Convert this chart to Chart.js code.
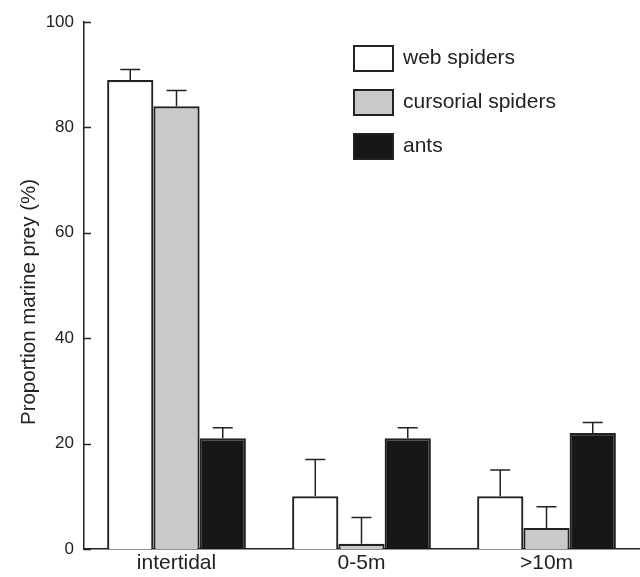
<!DOCTYPE html>
<html lang="en">
<head>
  <meta charset="UTF-8">
  <title>Proportion marine prey</title>
  <script src="https://cdn.jsdelivr.net/npm/chart.js"></script>
  <style>
    html, body { margin: 0; padding: 0; background: #fff; }
    #wrap { width: 640px; height: 577px; position: relative; }
  </style>
</head>
<body>
  <div id="wrap"><canvas id="preyChart"></canvas></div>

  <script>
    // values (%), errors are the upper whisker size
    const categories = ['intertidal', '0-5m', '>10m'];
    const seriesNames = ['web spiders', 'cursorial spiders', 'ants'];
    const webSpiders = [89, 10, 10];
    const webSpidersErr = [2, 7, 5];
    const cursorialSpiders = [84, 1, 4];
    const cursorialSpidersErr = [3, 5, 4];
    const ants = [21, 21, 22];
    const antsErr = [2, 2, 2];
    const yTicks = [0, 20, 40, 60, 80, 100];
    const yTitle = 'Proportion marine prey (%)';

    const ink = '#222';
    const fillColors = ['#ffffff', '#c8c9c8', '#171717'];
    const font = 'Liberation Sans, Arial, sans-serif';

    // whiskers, only pointing up
    const errorBars = {
      id: 'errorBars',
      afterDatasetsDraw(chart) {
        const ctx = chart.ctx;
        const y = chart.scales.y;
        ctx.save();
        ctx.strokeStyle = ink;
        ctx.lineWidth = 1.5;
        chart.data.datasets.forEach((ds, i) => {
          chart.getDatasetMeta(i).data.forEach((bar, j) => {
            const top = y.getPixelForValue(ds.data[j] + ds.err[j]);
            ctx.beginPath();
            ctx.moveTo(bar.x, bar.y);
            ctx.lineTo(bar.x, top);
            ctx.moveTo(bar.x - 10, top);
            ctx.lineTo(bar.x + 10, top);
            ctx.stroke();
          });
        });
        ctx.restore();
      }
    };

    // y ticks point into the plot, plus the rotated axis title
    const innerTicks = {
      id: 'innerTicks',
      afterDraw(chart) {
        const ctx = chart.ctx;
        const y = chart.scales.y;
        const left = chart.chartArea.left;
        ctx.save();
        ctx.strokeStyle = ink;
        ctx.lineWidth = 1.5;
        yTicks.forEach(v => {
          const py = Math.round(y.getPixelForValue(v)) + 0.5;
          ctx.beginPath();
          ctx.moveTo(left, py);
          ctx.lineTo(left + 7, py);
          ctx.stroke();
        });
        ctx.translate(29, 302);
        ctx.rotate(-Math.PI / 2);
        ctx.font = '20.5px ' + font;
        ctx.fillStyle = ink;
        ctx.textAlign = 'center';
        ctx.textBaseline = 'middle';
        ctx.fillText(yTitle, 0, 0);
        ctx.restore();
      }
    };

    // legend box in the upper right
    const boxLegend = {
      id: 'boxLegend',
      afterDraw(chart) {
        const ctx = chart.ctx;
        ctx.save();
        ctx.font = '21px ' + font;
        ctx.textBaseline = 'middle';
        chart.data.datasets.forEach((ds, i) => {
          const cy = 58 + i * 44;
          ctx.fillStyle = ds.backgroundColor;
          ctx.fillRect(354, cy - 12, 39, 25);
          ctx.strokeStyle = ink;
          ctx.lineWidth = 2;
          ctx.strokeRect(354, cy - 12, 39, 25);
          ctx.fillStyle = ink;
          ctx.fillText(ds.label, 403, cy);
        });
        ctx.restore();
      }
    };

    const values = [webSpiders, cursorialSpiders, ants];
    const errs = [webSpidersErr, cursorialSpidersErr, antsErr];

    new Chart(document.getElementById('preyChart'), {
      type: 'bar',
      data: {
        labels: categories,
        datasets: seriesNames.map((name, i) => ({
          label: name,
          data: values[i],
          err: errs[i],
          backgroundColor: fillColors[i],
          borderColor: ink,
          borderWidth: 2.2,
          categoryPercentage: 0.75,
          barPercentage: 1
        }))
      },
      options: {
        responsive: true,
        maintainAspectRatio: false,
        animation: false,
        layout: { padding: { top: 22, right: 1, left: 0, bottom: 0 } },
        plugins: {
          legend: { display: false },
          tooltip: { enabled: false }
        },
        scales: {
          x: {
            grid: { display: false, drawTicks: false },
            border: { color: ink, width: 1.5 },
            ticks: { color: ink, font: { family: font, size: 21 }, padding: 2 },
            afterFit(scale) { scale.height = 28; }
          },
          y: {
            min: 0,
            max: 100,
            afterBuildTicks(scale) { scale.ticks = yTicks.map(v => ({ value: v })); },
            grid: { display: false, drawTicks: false },
            border: { color: ink, width: 1.5 },
            ticks: { color: ink, font: { family: font, size: 17 }, padding: 10 },
            afterFit(scale) { scale.width = 84; }
          }
        }
      },
      plugins: [errorBars, innerTicks, boxLegend]
    });
  </script>
</body>
</html>
